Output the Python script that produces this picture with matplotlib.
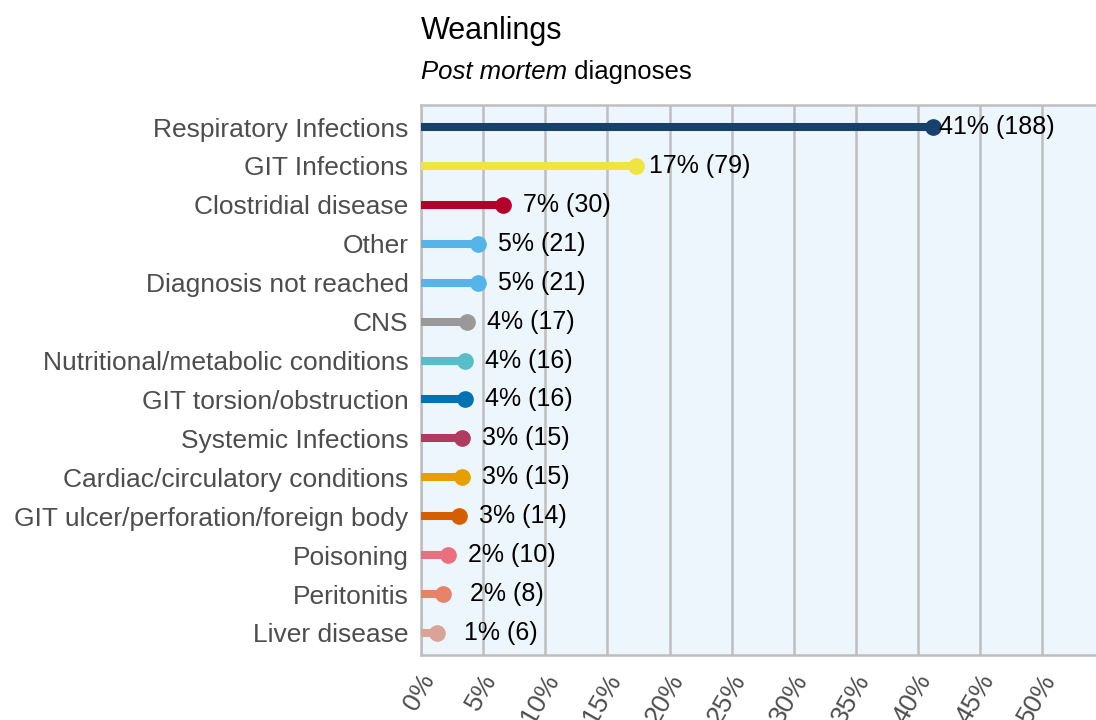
import numpy as np
import matplotlib
matplotlib.use("Agg")
import matplotlib.pyplot as plt
from matplotlib.transforms import ScaledTranslation

plt.rcParams["font.family"] = ["Liberation Sans", "DejaVu Sans"]

# data, top to bottom
categories = [
    "Respiratory Infections", "GIT Infections", "Clostridial disease", "Other",
    "Diagnosis not reached", "CNS", "Nutritional/metabolic conditions",
    "GIT torsion/obstruction", "Systemic Infections",
    "Cardiac/circulatory conditions", "GIT ulcer/perforation/foreign body",
    "Poisoning", "Peritonitis", "Liver disease",
]
counts = [188, 79, 30, 21, 21, 17, 16, 16, 15, 15, 14, 10, 8, 6]
pct_labels = [41, 17, 7, 5, 5, 4, 4, 4, 3, 3, 3, 2, 2, 1]
colors = [
    "#17406D", "#F0E442", "#B2002B", "#56B4E9", "#56B4E9", "#999999",
    "#57BDC8", "#0072B2", "#AF3A62", "#E69F00", "#D55E00", "#E8707F",
    "#E8826A", "#D9A398",
]
xticks = list(range(0, 55, 5))

total = sum(counts)
pct = [c / total * 100 for c in counts]
ypos = np.arange(len(categories))

fig = plt.figure(figsize=(10.96, 7.2), dpi=100)
ax = fig.add_axes([0.3841, 0.0903, 0.635, 0.7639])
ax.set_facecolor("#EEF6FD")

# lollipops
for y, v, c in zip(ypos, pct, colors):
    ax.plot([0, v], [y, y], color=c, lw=5.8, solid_capstyle="butt", zorder=3)
    ax.plot(v, y, "o", color=c, ms=11, zorder=4)

for y, v, p, n in zip(ypos, pct, pct_labels, counts):
    ax.annotate(f"{p}% ({n})", (v, y), xytext=(46, 0), textcoords="offset points",
                ha="center", va="center", fontsize=18, color="black", zorder=5)

ax.set_xlim(0, 56)
ax.set_ylim(len(categories) - 1 + 0.566, -0.566)
ax.set_yticks(ypos)
ax.set_yticklabels(categories, fontsize=19, color="#4D4D4D")
ax.set_xticks(xticks)
ax.set_xticklabels([f"{t}%" for t in xticks], fontsize=19, color="#4D4D4D",
                   rotation=60, ha="right", va="center", rotation_mode="anchor")
ax.tick_params(axis="y", length=0, pad=9)
ax.tick_params(axis="x", length=0, pad=15)
shift = ScaledTranslation(8 / 100, 0, fig.dpi_scale_trans)
for lab in ax.get_xticklabels():
    lab.set_transform(lab.get_transform() + shift)

ax.grid(axis="x", color="#BEBEBE", lw=1.8, zorder=1)
ax.set_axisbelow(True)
for s in ax.spines.values():
    s.set_color("#BEBEBE")
    s.set_linewidth(1.8)

# title + subtitle (italic part then regular)
fig.text(421 / 1096, 1 - 39 / 720, "Weanlings", fontsize=22, color="black",
         ha="left", va="baseline")
sub = fig.text(421 / 1096, 1 - 79 / 720, "Post mortem", fontsize=18.5,
               style="italic", color="black", ha="left", va="baseline")
ax.annotate(" diagnoses", xy=(1, 0), xycoords=sub, fontsize=18.5, color="black",
            ha="left", va="bottom", annotation_clip=False)

fig.savefig("out.png", dpi=100)
